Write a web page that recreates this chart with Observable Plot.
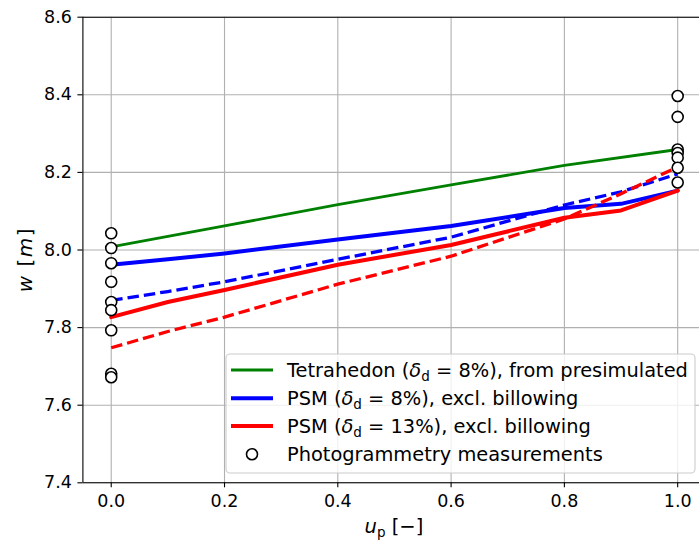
<!DOCTYPE html>
<html><head><meta charset="utf-8">
<script src="https://cdn.jsdelivr.net/npm/d3@7"></script>
<script src="https://cdn.jsdelivr.net/npm/@observablehq/plot@0.6"></script>
<style>
html,body{margin:0;padding:0;background:#fff}
#chart svg{display:block}
</style>
</head><body><div id="chart"></div>
<script>
// ---- data ----
const xTicks = [0.0, 0.2, 0.4, 0.6, 0.8, 1.0];
const yTicks = [7.4, 7.6, 7.8, 8.0, 8.2, 8.4, 8.6];

const uTetra = [0.0, 0.2, 0.4, 0.6, 0.8, 1.0];
const wTetra = [8.008, 8.062, 8.117, 8.168, 8.218, 8.259];

const uPSM = [0.0, 0.1, 0.2, 0.4, 0.6, 0.8, 0.9, 1.0];
const wPSM8 = [7.962, 7.976, 7.991, 8.027, 8.062, 8.108, 8.119, 8.153];
const wPSM13 = [7.827, 7.866, 7.897, 7.962, 8.013, 8.083, 8.102, 8.153];
const wPSM8dash = [7.870, 7.893, 7.918, 7.976, 8.033, 8.116, 8.150, 8.196];
const wPSM13dash = [7.748, 7.790, 7.827, 7.912, 7.984, 8.080, 8.145, 8.214];

const uMeas0 = 0.0;
const wMeas0 = [8.043, 8.005, 7.966, 7.918, 7.866, 7.845, 7.793, 7.681, 7.672];
const uMeas1 = 1.0;
const wMeas1 = [8.397, 8.343, 8.259, 8.250, 8.238, 8.212, 8.174];

const legendLabels = [
  {pre: "Tetrahedon (", post: " = 8%), from presimulated", color: "#008000"},
  {pre: "PSM (", post: " = 8%), excl. billowing", color: "#0000ff"},
  {pre: "PSM (", post: " = 13%), excl. billowing", color: "#ff0000"},
  {pre: "Photogrammetry measurements", post: null, color: null}
];

// ---- tables ----
const toRows = (us, ws) => us.map((u, i) => ({u, w: ws[i]}));
const tetra = toRows(uTetra, wTetra);
const psm8 = toRows(uPSM, wPSM8);
const psm13 = toRows(uPSM, wPSM13);
const psm8d = toRows(uPSM, wPSM8dash);
const psm13d = toRows(uPSM, wPSM13dash);
const meas = [...wMeas0.map(w => ({u: uMeas0, w})), ...wMeas1.map(w => ({u: uMeas1, w}))];

const W = 699, H = 541;
const xDom = [-0.05, 1.05], yDom = [7.4, 8.6];
const mTop = 16.7, mBottom = H - 482.3, mLeft = 82.4;

const grid = {stroke: "#b0b0b0", strokeOpacity: 1, strokeWidth: 1.1};
const spine = {stroke: "#000", strokeWidth: 1.1};

const plot = Plot.plot({
  width: W, height: H,
  marginTop: mTop, marginBottom: mBottom, marginLeft: mLeft, marginRight: 0,
  style: {fontFamily: "DejaVu Sans", fontSize: "17.5px", color: "#000", background: "#fff"},
  x: {domain: xDom, range: [82.4, 705.5]},
  y: {domain: yDom, range: [482.3, 16.7]},
  marks: [
    Plot.gridX(xTicks, grid),
    Plot.gridY(yTicks, grid),
    Plot.line(tetra, {x: "u", y: "w", stroke: "#008000", strokeWidth: 2.8}),
    Plot.line(psm8, {x: "u", y: "w", stroke: "#0000ff", strokeWidth: 4}),
    Plot.line(psm13, {x: "u", y: "w", stroke: "#ff0000", strokeWidth: 4}),
    Plot.line(psm8d, {x: "u", y: "w", stroke: "#0000ff", strokeWidth: 3.3, strokeDasharray: "11.5,5", strokeLinecap: "butt"}),
    Plot.line(psm13d, {x: "u", y: "w", stroke: "#ff0000", strokeWidth: 3.3, strokeDasharray: "11.5,5", strokeLinecap: "butt"}),
    Plot.dot(meas, {x: "u", y: "w", r: 5.5, stroke: "#000", fill: "#fff", strokeWidth: 1.6}),
    Plot.ruleX([xDom[0], xDom[1]], spine),
    Plot.ruleY([yDom[0], yDom[1]], spine),
    Plot.axisX({ticks: xTicks, tickFormat: d3.format(".1f"), tickSize: 5, tickPadding: 7, label: null, stroke: "#000", fill: "#000", strokeWidth: 1.1}),
    Plot.axisY({ticks: yTicks, tickFormat: d3.format(".1f"), tickSize: 5, tickPadding: 6, label: null, stroke: "#000", fill: "#000", strokeWidth: 1.1})
  ]
});

document.getElementById("chart").appendChild(plot);

// ---- axis titles and legend (text with math-style tspans) ----
const svg = d3.select(plot);
const xs = plot.scale("x"), ys = plot.scale("y");

// x label: u_p [−]
const xl = svg.append("text")
  .attr("x", xs.apply(0.5)).attr("y", 533)
  .attr("text-anchor", "middle").attr("font-size", "19.5px").attr("fill", "#000");
xl.append("tspan").attr("font-style", "italic").text("u");
xl.append("tspan").attr("font-size", "13.5px").attr("dy", 3.5).text("p");
xl.append("tspan").attr("dy", -3.5).text(" [\u2212]");

// y label: w [m]
const yl = svg.append("text")
  .attr("transform", `translate(32,${ys.apply(8.0) + 10}) rotate(-90)`)
  .attr("text-anchor", "middle").attr("font-size", "20px").attr("letter-spacing", "1.5px").attr("fill", "#000");
yl.append("tspan").attr("font-style", "italic").text("w");
yl.append("tspan").text(" [");
yl.append("tspan").attr("font-style", "italic").text("m");
yl.append("tspan").text("]");

// legend
const lg = svg.append("g").attr("text-anchor", "start");
lg.append("rect").attr("x", 226).attr("y", 354).attr("width", 469).attr("height", 119)
  .attr("rx", 4).attr("fill", "#fff").attr("fill-opacity", 0.8).attr("stroke", "#cccccc").attr("stroke-width", 1.1);
const rowY = [370, 398.3, 426, 454.3];
legendLabels.forEach((d, i) => {
  const y = rowY[i];
  if (d.color) {
    lg.append("line").attr("x1", 231).attr("x2", 273).attr("y1", y).attr("y2", y)
      .attr("stroke", d.color).attr("stroke-width", i === 0 ? 2.8 : 4);
  } else {
    lg.append("circle").attr("cx", 252).attr("cy", y).attr("r", 5.5)
      .attr("fill", "#fff").attr("stroke", "#000").attr("stroke-width", 1.6);
  }
  const t = lg.append("text").attr("x", 287).attr("y", y).attr("dy", "0.36em")
    .attr("text-anchor", "start").attr("font-size", "19.4px").attr("fill", "#000");
  t.append("tspan").text(d.pre);
  if (d.post !== null) {
    t.append("tspan").attr("font-style", "italic").text("\u03b4");
    t.append("tspan").attr("font-size", "13.5px").attr("dy", 4).text("d");
    t.append("tspan").attr("dy", -4).text(d.post);
  }
});
</script></body></html>
